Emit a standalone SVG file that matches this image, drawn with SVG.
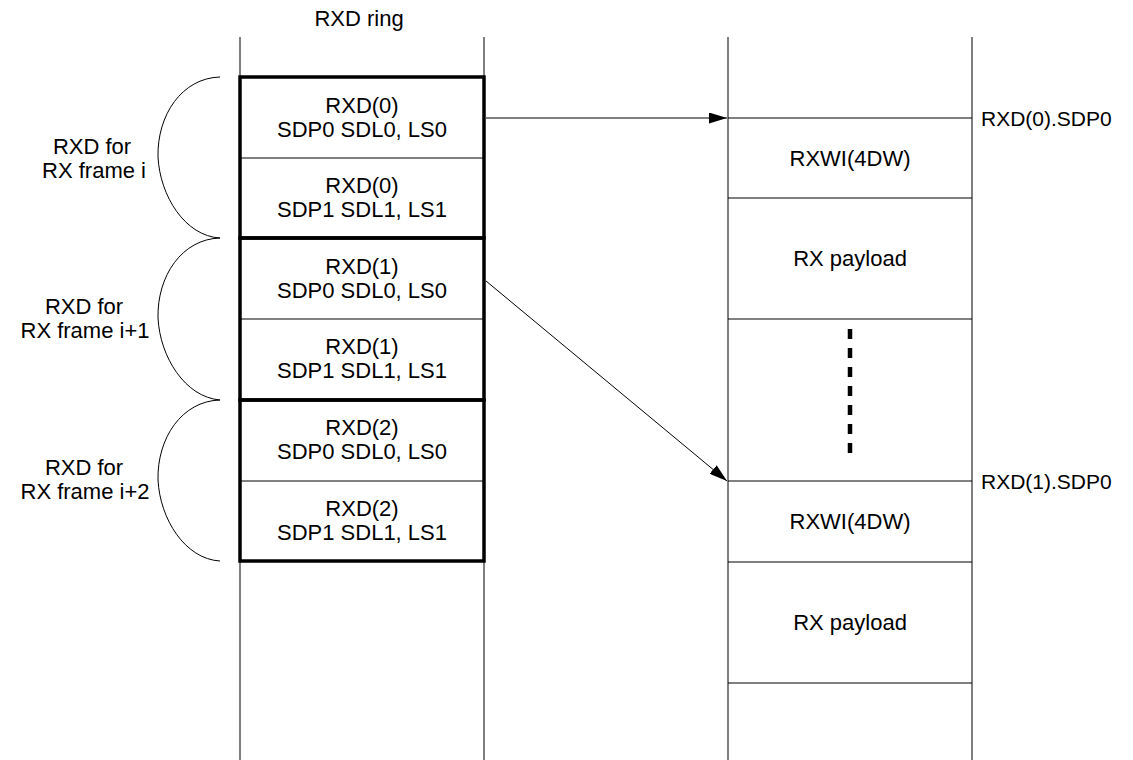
<svg xmlns="http://www.w3.org/2000/svg" width="1133" height="760" viewBox="0 0 1133 760">
<style>
text{font-family:"Liberation Sans",Arial,sans-serif;font-size:22px;fill:#000;text-anchor:middle}
.l{text-anchor:start;font-size:21px}
.thin{stroke:#000;stroke-width:1;fill:none}
.thick{stroke:#000;stroke-width:3.5;fill:none}
.brace{stroke:#000;stroke-width:1;fill:none}
</style>
<defs>
<marker id="ah" markerWidth="18" markerHeight="11" refX="18" refY="5.5" orient="auto" markerUnits="userSpaceOnUse">
<path d="M0,0 L18,5.5 L0,11 Z" fill="#000"/>
</marker>
</defs>
<rect width="1133" height="760" fill="#fff"/>

<g id="ring">
<text x="359" y="26">RXD ring</text>
<line class="thin" x1="240" y1="37" x2="240" y2="760"/>
<line class="thin" x1="484" y1="37" x2="484" y2="760"/>
</g>

<g id="rxd0">
<line class="thin" x1="240" y1="158" x2="484" y2="158"/>
<text x="362" y="113">RXD(0)</text>
<text x="362" y="137">SDP0 SDL0, LS0</text>
<text x="362" y="193">RXD(0)</text>
<text x="362" y="217">SDP1 SDL1, LS1</text>
<rect class="thick" x="240" y="77" width="244" height="161"/>
</g>
<g id="rxd1">
<line class="thin" x1="240" y1="319" x2="484" y2="319"/>
<text x="362" y="274">RXD(1)</text>
<text x="362" y="298">SDP0 SDL0, LS0</text>
<text x="362" y="354">RXD(1)</text>
<text x="362" y="378">SDP1 SDL1, LS1</text>
<rect class="thick" x="240" y="238" width="244" height="162"/>
</g>
<g id="rxd2">
<line class="thin" x1="240" y1="481" x2="484" y2="481"/>
<text x="362" y="435">RXD(2)</text>
<text x="362" y="459">SDP0 SDL0, LS0</text>
<text x="362" y="516">RXD(2)</text>
<text x="362" y="540">SDP1 SDL1, LS1</text>
<rect class="thick" x="240" y="400" width="244" height="161"/>
</g>

<g id="brace0">
<path class="brace" d="M220,77 C182,78 157,115 158,157 C160,196 185,236 220,238"/>
<text x="92" y="154">RXD for</text>
<text x="94" y="178">RX frame i</text>
</g>
<g id="brace1">
<path class="brace" d="M220,238 C182,239 157,276 158,318 C160,357 185,397 220,400"/>
<text x="84" y="314">RXD for</text>
<text x="85" y="338">RX frame i+1</text>
</g>
<g id="brace2">
<path class="brace" d="M220,400 C182,401 157,438 158,480 C160,519 185,559 220,561"/>
<text x="84" y="475">RXD for</text>
<text x="85" y="499">RX frame i+2</text>
</g>

<g id="buffer">
<line class="thin" x1="728" y1="37" x2="728" y2="760"/>
<line class="thin" x1="972" y1="37" x2="972" y2="760"/>
</g>
<g id="rxwi0">
<line class="thin" x1="728" y1="118" x2="972" y2="118"/>
<line class="thin" x1="728" y1="198" x2="972" y2="198"/>
<text x="850" y="166">RXWI(4DW)</text>
<text class="l" x="981" y="126">RXD(0).SDP0</text>
</g>
<g id="payload0">
<line class="thin" x1="728" y1="319" x2="972" y2="319"/>
<text x="850" y="266">RX payload</text>
</g>
<g id="gap">
<line x1="850" y1="329" x2="850" y2="456" stroke="#000" stroke-width="4.5" stroke-dasharray="10,9"/>
</g>
<g id="rxwi1">
<line class="thin" x1="728" y1="481" x2="972" y2="481"/>
<line class="thin" x1="728" y1="562" x2="972" y2="562"/>
<text x="850" y="529">RXWI(4DW)</text>
<text class="l" x="981" y="489">RXD(1).SDP0</text>
</g>
<g id="payload1">
<line class="thin" x1="728" y1="683" x2="972" y2="683"/>
<text x="850" y="630">RX payload</text>
</g>

<g id="connectors">
<line class="thin" x1="486" y1="118" x2="727" y2="118" marker-end="url(#ah)"/>
<line class="thin" x1="486" y1="281" x2="727" y2="481" marker-end="url(#ah)"/>
</g>
</svg>
